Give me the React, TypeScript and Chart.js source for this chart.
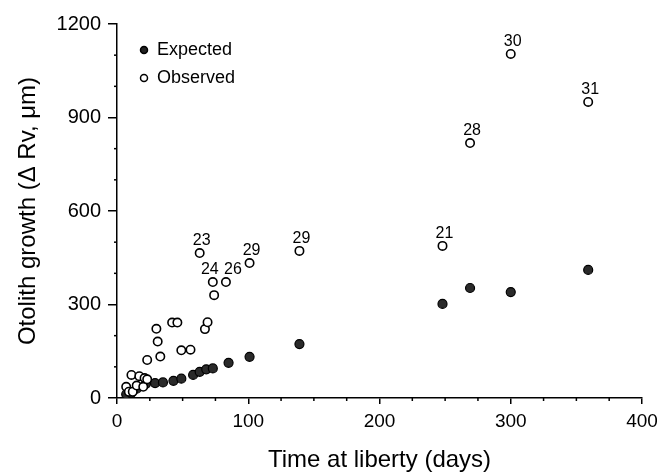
import React, { useEffect, useRef } from "react";
import { Chart, registerables } from "chart.js";

Chart.register(...registerables);

const expectedX = [7, 11, 15, 22, 29, 35, 43, 49, 58, 63, 68, 73, 85, 101, 139, 248, 269, 300, 359];
const expectedY = [12, 16, 30, 45, 48, 50, 55, 62, 74, 84, 92, 95, 113, 132, 173, 302, 353, 340, 411];

const observedX = [7, 9, 11, 12, 15, 17, 20, 21, 23, 23, 30, 31, 33, 42, 46, 49, 56, 67, 69, 63, 73, 74, 83, 101, 139, 248, 269, 300, 359];
const observedY = [36, 20, 74, 20, 40, 70, 36, 64, 122, 60, 222, 181, 133, 242, 242, 153, 155, 221, 243, 465, 372, 330, 372, 433, 472, 488, 818, 1104, 950];
const observedLabels = ["", "", "", "", "", "", "", "", "", "", "", "", "", "", "", "", "", "", "", "23", "24", "", "26", "29", "29", "21", "28", "30", "31"];

const legendLabels = ["Expected", "Observed"];
const xTitle = "Time at liberty (days)";
const yTitle = "Otolith growth (\u0394 Rv, \u03bcm)";

const FONT = "'Liberation Sans', Arial, sans-serif";

// small horizontal nudges (px) for crowded point labels, keyed by label index
const LABEL_NUDGE: Record<number, number> = { 20: -5, 22: 5 };

const decorPlugin = {
  id: "decor",
  afterDatasetsDraw(chart: any) {
    const ctx = chart.ctx;
    const xs = chart.scales.x;
    const ys = chart.scales.y;
    ctx.save();
    // minor ticks
    ctx.strokeStyle = "#000";
    ctx.lineWidth = 1.5;
    for (let v = 0; v <= 400; v += 25) {
      if (v % 100 === 0) continue;
      const px = xs.getPixelForValue(v);
      ctx.beginPath();
      ctx.moveTo(px, ys.bottom);
      ctx.lineTo(px, ys.bottom + 3);
      ctx.stroke();
    }
    for (let v = 0; v <= 1200; v += 100) {
      if (v % 300 === 0) continue;
      const py = ys.getPixelForValue(v);
      ctx.beginPath();
      ctx.moveTo(xs.left, py);
      ctx.lineTo(xs.left - 3, py);
      ctx.stroke();
    }
    // point labels
    ctx.fillStyle = "#000";
    ctx.font = "16px " + FONT;
    ctx.textAlign = "center";
    ctx.textBaseline = "bottom";
    observedLabels.forEach((t, i) => {
      if (!t) return;
      const px = xs.getPixelForValue(observedX[i]);
      const py = ys.getPixelForValue(observedY[i]);
      ctx.fillText(t, px + 2 + (LABEL_NUDGE[i] || 0), py - 4);
    });
    // legend
    const lx = xs.left + 27;
    const ly0 = ys.top + 26;
    ctx.font = "18px " + FONT;
    ctx.textAlign = "left";
    ctx.textBaseline = "middle";
    legendLabels.forEach((t, i) => {
      const ly = ly0 + i * 28;
      ctx.beginPath();
      ctx.arc(lx, ly, 3.5, 0, Math.PI * 2);
      ctx.fillStyle = i === 0 ? "#222" : "#fff";
      ctx.fill();
      ctx.lineWidth = 1.5;
      ctx.strokeStyle = "#000";
      ctx.stroke();
      ctx.fillStyle = "#000";
      ctx.fillText(t, lx + 13, ly);
    });
    ctx.restore();
  },
};

export default function App() {
  const ref = useRef<HTMLCanvasElement>(null);
  useEffect(() => {
    document.body.style.margin = "0";
    const chart = new Chart(ref.current as HTMLCanvasElement, {
      type: "scatter",
      data: {
        datasets: [
          {
            label: legendLabels[1],
            data: observedX.map((x, i) => ({ x, y: observedY[i] })),
            backgroundColor: "#fff",
            borderColor: "#000",
            borderWidth: 1.6,
            pointRadius: 4.2,
          },
          {
            label: legendLabels[0],
            data: expectedX.map((x, i) => ({ x, y: expectedY[i] })),
            backgroundColor: "#2a2a2a",
            borderColor: "#000",
            borderWidth: 1.2,
            pointRadius: 4.5,
          },
        ],
      },
      options: {
        animation: false,
        responsive: false,
        devicePixelRatio: 1,
        layout: { padding: { top: 24, right: 15, left: 0, bottom: 0 } },
        plugins: { legend: { display: false }, tooltip: { enabled: false } },
        scales: {
          x: {
            type: "linear",
            min: 0,
            max: 400,
            ticks: { stepSize: 100, color: "#000", font: { family: FONT, size: 19 }, padding: 6, callback: (v: any) => String(v) },
            grid: { display: true, drawOnChartArea: false, drawTicks: true, tickLength: 6, color: "#000", lineWidth: 1.5 },
            border: { display: true, color: "#000", width: 1.5 },
            title: { display: true, text: xTitle, color: "#000", font: { family: FONT, size: 24 }, padding: { top: 0, bottom: 0 } },
            afterFit(scale: any) {
              scale.height = 77;
              scale.paddingRight = 0;
              scale.paddingLeft = 0;
            },
          },
          y: {
            type: "linear",
            min: 0,
            max: 1200,
            ticks: { stepSize: 300, color: "#000", font: { family: FONT, size: 20 }, padding: 7, callback: (v: any) => String(v) },
            grid: { display: true, drawOnChartArea: false, drawTicks: true, tickLength: 9, color: "#000", lineWidth: 1.5 },
            border: { display: true, color: "#000", width: 1.5 },
            title: { display: true, text: yTitle, color: "#000", font: { family: FONT, size: 24 }, padding: { top: 14, bottom: 0 } },
            afterFit(scale: any) {
              scale.width = 117;
              scale.paddingTop = 0;
              scale.paddingBottom = 0;
            },
          },
        },
      },
      plugins: [decorPlugin],
    });
    return () => chart.destroy();
  }, []);
  return <canvas ref={ref} width={657} height={475} style={{ display: "block" }} />;
}
